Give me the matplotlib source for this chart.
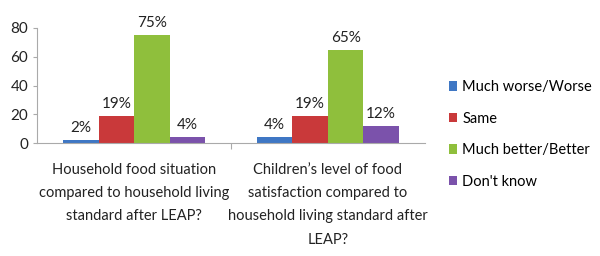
import numpy as np
import matplotlib
matplotlib.use("Agg")
import matplotlib.pyplot as plt
from matplotlib.patches import Patch

plt.rcParams['font.family'] = ['Lato', 'DejaVu Sans']

# Data
categories = [
    "Household food situation\ncompared to household living\nstandard after LEAP?",
    "Children\u2019s level of food\nsatisfaction compared to\nhousehold living standard after\nLEAP?",
]
series_names = ["Much worse/Worse", "Same", "Much better/Better", "Don't know"]
values = {
    "Much worse/Worse": [2, 4],
    "Same": [19, 19],
    "Much better/Better": [75, 65],
    "Don't know": [4, 12],
}
colors = ["#3f77c4", "#c9393a", "#8fbf3c", "#7b52ab"]

fig = plt.figure(figsize=(6, 2.56), dpi=100)
ax = fig.add_axes([0.062, 0.441, 0.646, 0.45])

x = np.arange(len(categories))
bw = 0.183
n = len(series_names)
for i, name in enumerate(series_names):
    pos = x + (i - (n - 1) / 2) * bw
    bars = ax.bar(pos, values[name], width=bw, color=colors[i], label=name)
    for b, v in zip(bars, values[name]):
        ax.annotate(f"{v}%", (b.get_x() + b.get_width() / 2, v),
                    xytext=(0, 3.5), textcoords="offset points",
                    ha="center", va="bottom", fontsize=11, color="#222222",
                    annotation_clip=False)

ax.set_xlim(-0.5, 1.5)
ax.set_ylim(0, 80)
ax.set_yticks([0, 20, 40, 60, 80])
ax.tick_params(axis="y", labelsize=11, colors="#222222", length=3, color="#aaaaaa")
ax.set_xticks([0.5])
ax.set_xticklabels([])
ax.tick_params(axis="x", length=4, color="#aaaaaa")
for s in ["top", "right"]:
    ax.spines[s].set_visible(False)
ax.spines["left"].set_color("#aaaaaa")
ax.spines["bottom"].set_color("#aaaaaa")

for xi, lab in zip(x, categories):
    ax.annotate(lab, (xi, 0), xytext=(0, -14), textcoords="offset points",
                ha="center", va="top", fontsize=10.5, color="#222222",
                linespacing=1.85, annotation_clip=False)

handles = [Patch(facecolor=c, label=nm) for c, nm in zip(colors, series_names)]
fig.legend(handles=handles, loc="upper left", bbox_to_anchor=(0.738, 0.71),
           frameon=False, fontsize=10.5, handlelength=0.6, handleheight=0.6,
           handletextpad=0.35, labelspacing=1.2, borderaxespad=0)

fig.savefig("out.png", dpi=100)
